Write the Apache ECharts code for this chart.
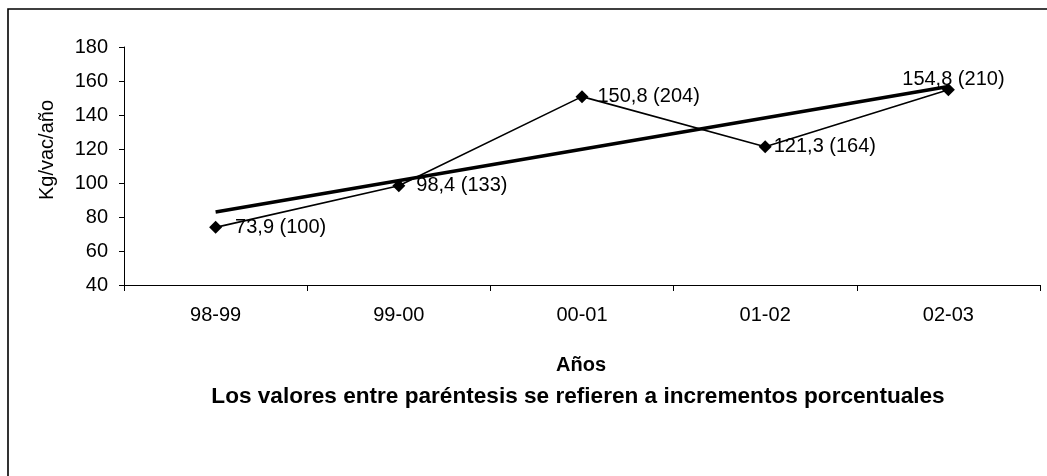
<!DOCTYPE html>
<html>
<head>
<meta charset="utf-8">
<style>
  html, body { margin: 0; padding: 0; background: #fff; }
  #chart { width: 1047px; height: 476px; }
</style>
<script src="https://cdn.jsdelivr.net/npm/echarts@6/dist/echarts.min.js"></script>
</head>
<body>
<div id="chart"></div>
<script>
// Campaign labels on the category axis
var campaigns = ['98-99', '99-00', '00-01', '01-02', '02-03'];
// Yield per cow and year (kg)
var kgPerCow = [73.9, 98.4, 150.8, 121.3, 154.8];
// Index relative to the first campaign (98-99 = 100)
var indexValues = [100, 133, 204, 164, 210];
// Linear trend: start and end values
var trendStart = 82.9;
var trendEnd = 156.8;
// Value axis ticks
var yTicks = [40, 60, 80, 100, 120, 140, 160, 180];

var FONT = "'Liberation Sans', Arial, sans-serif";

function fmt(v) {
  return v.toFixed(1).replace('.', ',');
}

// Label placement per point (the last one sits over its marker)
var labelDistance = [13, 11, 9, 2];

var mainData = kgPerCow.map(function (v, i) {
  var item = { value: v };
  if (i === kgPerCow.length - 1) {
    item.label = { position: 'inside', offset: [5, -10] };
  } else {
    item.label = { position: 'right', distance: labelDistance[i] };
  }
  return item;
});

var chart = echarts.init(document.getElementById('chart'), null, { renderer: 'canvas' });

chart.setOption({
  animation: false,
  backgroundColor: '#ffffff',
  grid: { left: 124, right: 7, top: 47, bottom: 191, containLabel: false },
  xAxis: {
    type: 'category',
    data: campaigns,
    boundaryGap: true,
    axisLine: { show: true, lineStyle: { color: '#000', width: 1 } },
    axisTick: { show: true, inside: false, length: 6, alignWithLabel: false, lineStyle: { color: '#000' } },
    axisLabel: { color: '#000', fontFamily: FONT, fontSize: 20, margin: 20 },
    splitLine: { show: false }
  },
  yAxis: {
    type: 'value',
    min: yTicks[0],
    max: yTicks[yTicks.length - 1],
    interval: yTicks[1] - yTicks[0],
    axisLine: { show: true, lineStyle: { color: '#000', width: 1 } },
    axisTick: { show: true, inside: false, length: 5, lineStyle: { color: '#000' } },
    axisLabel: { color: '#000', fontFamily: FONT, fontSize: 20, margin: 16 },
    splitLine: { show: false }
  },
  series: [
    {
      name: 'Kg/vac/año',
      type: 'line',
      data: mainData,
      symbol: 'diamond',
      symbolSize: 13,
      itemStyle: { color: '#000' },
      lineStyle: { color: '#000', width: 1.6 },
      label: {
        show: true,
        color: '#000',
        fontFamily: FONT,
        fontSize: 20,
        formatter: function (p) {
          return fmt(kgPerCow[p.dataIndex]) + ' (' + indexValues[p.dataIndex] + ')';
        }
      },
      z: 2
    },
    {
      name: 'Tendencia',
      type: 'line',
      data: [[campaigns[0], trendStart], [campaigns[campaigns.length - 1], trendEnd]],
      symbol: 'none',
      lineStyle: { color: '#000', width: 3.5 },
      z: 3
    }
  ],
  graphic: [
    {
      type: 'rect',
      silent: true,
      shape: { x: 8, y: 9, width: 1200, height: 600 },
      style: { fill: 'none', stroke: '#000', lineWidth: 1.6 }
    },
    {
      type: 'text',
      silent: true,
      x: 47, y: 150,
      rotation: Math.PI / 2,
      style: {
        text: 'Kg/vac/año',
        fill: '#000',
        font: '20px ' + FONT,
        textAlign: 'center',
        textVerticalAlign: 'middle'
      }
    },
    {
      type: 'text',
      silent: true,
      x: 581, y: 365,
      style: {
        text: 'Años',
        fill: '#000',
        font: 'bold 20px ' + FONT,
        textAlign: 'center',
        textVerticalAlign: 'middle'
      }
    },
    {
      type: 'text',
      silent: true,
      x: 578, y: 397,
      style: {
        text: 'Los valores entre paréntesis se refieren a incrementos porcentuales',
        fill: '#000',
        font: 'bold 22.6px ' + FONT,
        textAlign: 'center',
        textVerticalAlign: 'middle'
      }
    }
  ]
});
</script>
</body>
</html>
